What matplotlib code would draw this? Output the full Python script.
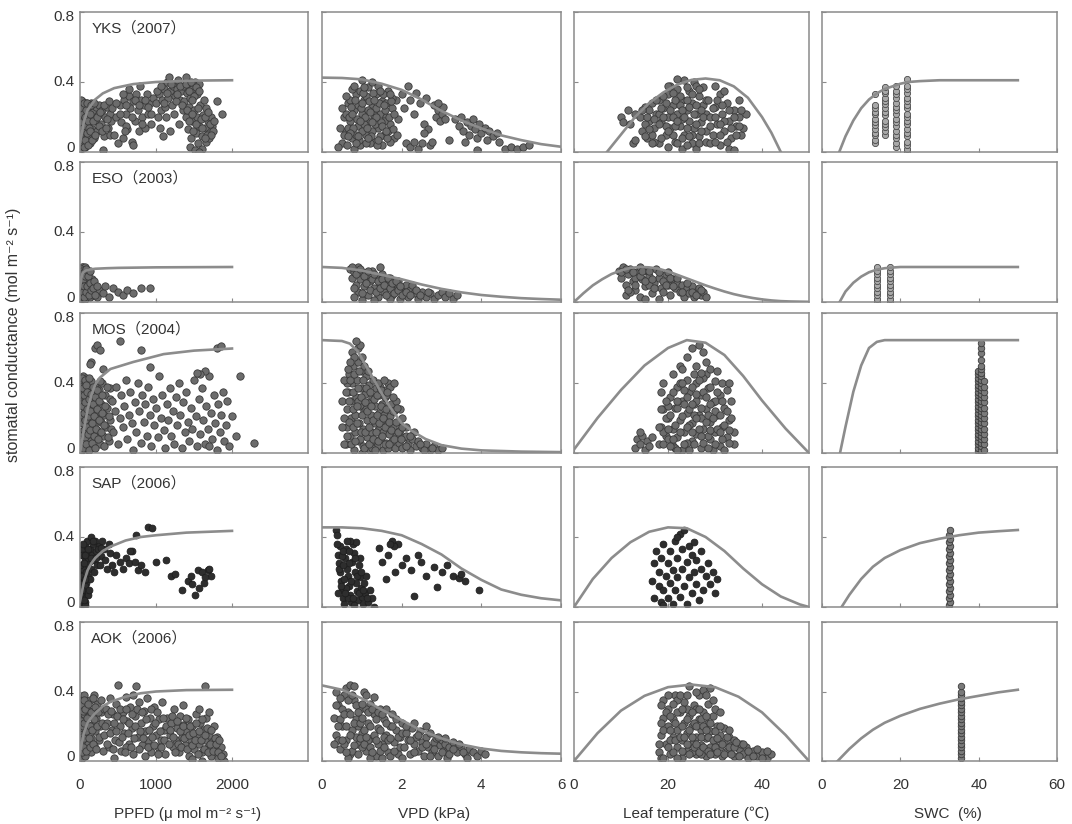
import matplotlib
matplotlib.use("Agg")
import matplotlib.pyplot as plt

plt.rcParams['font.family'] = ['Liberation Sans', 'Noto Sans CJK JP', 'DejaVu Sans']

# ---------------------------------------------------------------- sites / axes
sites = ["YKS（2007）", "ESO（2003）", "MOS（2004）", "SAP（2006）", "AOK（2006）"]
xlabels = ["PPFD (μ mol m⁻² s⁻¹)", "VPD (kPa)", "Leaf temperature (℃)", "SWC  (%)"]
xlims = [(0, 3000), (0, 6), (0, 50), (0, 60)]
xticks = [[0, 1000, 2000], [0, 2, 4, 6], [0, 20, 40], [0, 20, 40, 60]]
yticks = [0, 0.4, 0.8]
ytick_labels = ["0", "0.4", "0.8"]

# ---------------------------------------------------------------- fitted response curves (x, gs)
yks_ppfd_curve = ([0, 50, 100, 200, 300, 450, 700, 1000, 1500, 2000],
                  [0.05, 0.17, 0.24, 0.30, 0.335, 0.365, 0.388, 0.40, 0.408, 0.41])
yks_vpd_curve = ([0, 0.5, 1, 1.5, 2, 2.5, 3, 3.5, 4, 4.5, 5, 5.5, 6],
                 [0.425, 0.423, 0.415, 0.39, 0.355, 0.30, 0.235, 0.18, 0.135, 0.095, 0.068, 0.045, 0.03])
yks_t_curve = ([7, 10, 13, 16, 19, 22, 25, 28, 31, 34, 37, 40, 42, 44],
               [0, 0.10, 0.20, 0.28, 0.34, 0.385, 0.412, 0.42, 0.41, 0.375, 0.31, 0.20, 0.11, 0])
yks_swc_curve = ([4.4, 6, 8, 10, 12, 14, 16, 18, 20, 22, 25, 30, 40, 50],
                 [0, 0.09, 0.18, 0.25, 0.30, 0.335, 0.36, 0.375, 0.39, 0.40, 0.405, 0.41, 0.41, 0.41])

eso_ppfd_curve = ([0, 15, 30, 50, 80, 120, 200, 350, 500, 1000, 2000],
                  [0.08, 0.13, 0.16, 0.172, 0.18, 0.185, 0.19, 0.193, 0.195, 0.198, 0.2])
eso_vpd_curve = ([0, 0.5, 1, 1.5, 2, 2.5, 3, 3.5, 4, 4.5, 5, 5.5, 6],
                 [0.2, 0.195, 0.18, 0.155, 0.13, 0.10, 0.075, 0.055, 0.04, 0.03, 0.022, 0.017, 0.013])
eso_t_curve = ([0, 2, 4, 6, 8, 10, 12, 14, 16, 18, 20, 22, 24, 26, 28, 30, 32, 34, 36, 38, 40, 42, 44, 46, 48, 50],
               [0, 0.05, 0.095, 0.13, 0.16, 0.18, 0.195, 0.2, 0.198, 0.19, 0.175, 0.155, 0.135, 0.115,
                0.095, 0.077, 0.06, 0.045, 0.033, 0.023, 0.015, 0.009, 0.005, 0.003, 0.002, 0.001])
eso_swc_curve = ([4.5, 6, 8, 10, 12, 14, 16, 18, 20, 25, 30, 40, 50],
                 [0, 0.06, 0.11, 0.145, 0.17, 0.185, 0.193, 0.197, 0.2, 0.2, 0.2, 0.2, 0.2])

mos_ppfd_curve = ([0, 50, 100, 150, 200, 260, 400, 700, 1100, 1500, 2000],
                  [0.0, 0.13, 0.25, 0.33, 0.39, 0.43, 0.48, 0.52, 0.565, 0.585, 0.597])
mos_vpd_curve = ([0, 0.5, 0.7, 0.9, 1.1, 1.3, 1.5, 1.7, 2.0, 2.3, 2.6, 3.0, 3.5, 4, 5, 6],
                 [0.645, 0.64, 0.625, 0.58, 0.50, 0.42, 0.34, 0.265, 0.17, 0.12, 0.08, 0.045, 0.025, 0.015, 0.008, 0.005])
mos_t_curve = ([0, 5, 10, 15, 20, 24, 28, 32, 36, 40, 45, 50],
               [0.02, 0.20, 0.36, 0.50, 0.60, 0.645, 0.63, 0.56, 0.44, 0.30, 0.14, 0.0])
mos_swc_curve = ([4.6, 6, 8, 10, 12, 14, 16, 20, 30, 40, 50],
                 [0, 0.15, 0.35, 0.50, 0.60, 0.635, 0.645, 0.645, 0.645, 0.645, 0.645])

sap_ppfd_curve = ([0, 50, 100, 150, 200, 300, 400, 600, 800, 1000, 1400, 2000],
                  [0.03, 0.14, 0.21, 0.25, 0.28, 0.32, 0.345, 0.38, 0.40, 0.41, 0.425, 0.435])
sap_vpd_curve = ([0, 0.5, 1, 1.5, 2, 2.5, 3, 3.5, 4, 4.5, 5, 5.5, 6],
                 [0.455, 0.455, 0.45, 0.435, 0.41, 0.36, 0.30, 0.22, 0.155, 0.10, 0.07, 0.05, 0.038])
sap_t_curve = ([0, 4, 8, 12, 16, 20, 24, 28, 32, 36, 40, 44, 48, 50],
               [0, 0.16, 0.28, 0.37, 0.43, 0.455, 0.45, 0.40, 0.32, 0.22, 0.13, 0.06, 0.015, 0.0])
sap_swc_curve = ([5, 7, 10, 13, 16, 20, 25, 30, 35, 40, 45, 50],
                 [0, 0.07, 0.16, 0.23, 0.28, 0.325, 0.365, 0.39, 0.41, 0.425, 0.433, 0.44])

aok_ppfd_curve = ([0, 50, 100, 150, 200, 300, 400, 600, 800, 1000, 1400, 2000],
                  [0.05, 0.16, 0.22, 0.25, 0.275, 0.315, 0.34, 0.37, 0.39, 0.40, 0.408, 0.41])
aok_vpd_curve = ([0, 0.5, 1, 1.5, 2, 2.5, 3, 3.5, 4, 4.5, 5, 5.5, 6],
                 [0.435, 0.41, 0.36, 0.295, 0.235, 0.175, 0.13, 0.095, 0.072, 0.058, 0.05, 0.045, 0.042])
aok_t_curve = ([0, 5, 10, 15, 20, 25, 30, 35, 40, 45, 50],
               [0, 0.16, 0.29, 0.375, 0.425, 0.44, 0.425, 0.37, 0.28, 0.15, 0])
aok_swc_curve = ([4, 7, 10, 13, 16, 20, 25, 30, 35, 40, 45, 50],
                 [0, 0.07, 0.13, 0.18, 0.22, 0.26, 0.30, 0.33, 0.355, 0.375, 0.395, 0.41])

# ---------------------------------------------------------------- observations (x, gs)
yks_ppfd = [(5,.02),(8,.10),(10,.18),(12,.26),(15,.06),(18,.14),(20,.22),(22,.29),(25,.04),(30,.12),(35,.2),(40,.27),
            (45,.08),(50,.16),(55,.24),(60,.03),(65,.11),(70,.19),(75,.28),(85,.06),(90,.14),(95,.22),(105,.1),(110,.25),
            (120,.17),(130,.05),(140,.21),(150,.28),(160,.13),(170,.23),(185,.08),(195,.18),(210,.26),(225,.12),(240,.21),
            (255,.27),(270,.16),(290,.24),(310,.09),(330,.2),(350,.26),(370,.14),(390,.22),(410,.18),(300,.01),
            (3,.15),(6,.22),(9,.04),(14,.3),(17,.1),(23,.17),(28,.25),(33,.07),(38,.14),(42,.22),(47,.03),(52,.28),
            (57,.12),(63,.2),(68,.07),(73,.15),(80,.24),(87,.11),(92,.28),(100,.18),(108,.04),(115,.14),(125,.22),
            (135,.12),(145,.27),(155,.07),(165,.18),(180,.28),(200,.1),(220,.2),(245,.15),(265,.23),(285,.12),
            (320,.27),(340,.14),(360,.19),(380,.29),(400,.1),(420,.25),
            (450,.1),(470,.2),(500,.05),(520,.27),(540,.17),(560,.08),(580,.3),(600,.22),(620,.13),(640,.32),(660,.25),
            (680,.06),(700,.29),(720,.18),(740,.33),(760,.24),(780,.12),(800,.3),(820,.2),(840,.27),(860,.14),(880,.33),
            (900,.22),(920,.28),(940,.16),(960,.31),(650,.36),(700,.04),(790,.38),(600,.15),
            (470,.28),(530,.22),(570,.33),(610,.27),(690,.2),(730,.3),(770,.27),(810,.16),(850,.3),(890,.26),(930,.22),
            (590,.12),
            (1000,.28),(1020,.2),(1040,.33),(1060,.24),(1080,.3),(1100,.36),(1120,.26),(1140,.4),(1160,.31),(1170,.43),
            (1190,.35),(1210,.27),(1230,.38),(1250,.32),(1270,.36),(1290,.41),(1310,.3),(1330,.35),(1350,.38),(1370,.29),
            (1390,.43),(1410,.34),(1430,.38),(1450,.31),(1480,.36),(1510,.4),(1540,.33),(1570,.39),(1050,.14),(1090,.09),
            (1130,.2),(1190,.12),(1240,.22),(1300,.16),(1360,.24),
            (1010,.35),(1070,.38),(1110,.28),(1150,.34),(1200,.39),(1260,.29),(1280,.33),(1320,.38),(1340,.27),
            (1400,.39),(1440,.35),(1460,.4),(1500,.32),(1530,.37),(1560,.35),
            (1400,.2),(1420,.13),(1440,.26),(1460,.08),(1480,.18),(1500,.24),(1520,.11),(1540,.2),(1560,.15),(1580,.27),
            (1600,.09),(1620,.21),(1640,.14),(1660,.25),(1680,.18),(1700,.11),(1720,.2),(1740,.15),(1450,.03),(1510,.01),
            (1550,.05),(1600,.02),(1660,.06),(1700,.08),(1750,.12),(1630,.3),(1800,.29),(1870,.22),(1480,.3),(1570,.0),
            (1410,.24),(1430,.18),(1470,.22),(1490,.12),(1530,.16),(1550,.25),(1590,.19),(1610,.14),(1650,.2),
            (1670,.1),(1690,.23),(1710,.16),(1730,.1),(1760,.18),(1640,.08)]
yks_vpd = [(0.5,.05),(0.55,.2),(0.6,.12),(0.65,.28),(0.7,.18),(0.75,.08),(0.8,.24),(0.85,.33),(0.9,.15),(0.95,.04),
           (1.0,.22),(1.05,.3),(1.1,.1),(1.15,.37),(1.2,.18),(1.25,.26),(1.3,.06),(1.35,.33),(1.4,.14),(1.45,.22),
           (1.5,.29),(1.55,.1),(1.6,.2),(1.65,.35),(1.7,.16),(1.75,.25),(1.8,.08),(1.85,.3),(1.9,.19),(0.7,.3),(0.8,.02),
           (0.9,.27),(1.0,.12),(1.1,.32),(1.2,.05),(1.3,.21),(1.4,.38),(1.5,.04),(1.6,.28),(1.7,.06),(0.6,.22),(0.75,.36),
           (1.05,.16),(1.25,.12),(1.45,.09),(1.55,.18),(1.35,.25),(0.95,.35),(0.85,.1),(1.15,.24),(1.65,.12),(1.75,.31),
           (0.65,.14),(1.0,.41),(1.25,.4),(0.45,.14),(0.4,.03),
           (0.5,.25),(0.55,.1),(0.6,.32),(0.62,.04),(0.68,.2),(0.72,.26),(0.78,.14),(0.82,.3),(0.88,.19),(0.92,.07),
           (0.98,.25),(1.02,.34),(1.07,.2),(1.12,.14),(1.17,.29),(1.22,.09),(1.27,.34),(1.32,.16),(1.37,.04),
           (1.42,.28),(1.47,.17),(1.52,.33),(1.57,.24),(1.62,.08),(1.67,.2),(1.72,.29),(1.78,.13),(1.82,.22),
           (1.88,.1),(0.7,.11),(0.8,.38),(0.9,.09),(1.0,.28),(1.1,.05),(1.2,.23),(1.3,.3),(1.4,.07),(1.5,.15),
           (1.6,.12),(1.7,.33),(0.95,.18),(1.15,.08),(1.35,.2),(1.45,.35),(1.55,.27),(0.85,.05),(1.05,.37),
           (1.25,.17),(0.75,.22),(0.65,.09),
           (2.0,.33),(2.05,.25),(2.15,.38),(2.2,.3),(2.3,.22),(2.35,.34),(2.45,.28),(2.55,.16),(2.6,.31),(2.65,.13),
           (2.1,.05),(2.2,.03),(2.3,.06),(2.4,.02),(2.5,.05),(2.7,.04),(2.75,.06),(3.2,.07),(2.55,.11),
           (2.8,.27),(2.85,.2),(2.9,.24),(2.95,.18),(3.0,.22),(3.05,.26),(3.1,.19),(2.9,.28),
           (3.35,.19),(3.45,.15),(3.5,.2),(3.55,.12),(3.65,.17),(3.7,.1),(3.75,.15),(3.8,.19),(3.85,.13),(3.9,.08),
           (3.95,.16),(4.0,.11),(4.1,.14),(4.15,.07),(4.2,.12),(4.3,.09),(4.4,.11),(4.45,.06),(3.6,.06),(3.9,.01),
           (4.6,.02),(4.75,.03),(4.9,.02),(5.05,.03),(5.2,.04)]
yks_t = [(10,.2),(10.5,.17),(11.5,.24),(12,.16),(13,.22),(12.5,.05),(13,.07),
         (14,.2),(14.5,.12),(15,.26),(15.5,.08),(16,.18),(16.5,.28),(17,.14),(17.5,.22),(18,.05),(18,.3),(18.5,.17),
         (19,.25),(19.5,.1),(20,.2),(20,.33),(20.5,.14),(21,.27),(21.5,.06),(22,.22),(22,.36),(22.5,.15),(23,.3),
         (23.5,.1),(23.5,.41),(24,.24),(24.5,.18),(24.5,.35),(25,.05),(25,.28),(25.5,.14),(25.5,.4),(26,.22),(26.5,.32),
         (26.5,.09),(27,.17),(27.5,.27),(27.5,.37),(28,.12),(28,.22),(16,.24),(17,.06),(19,.32),(21,.2),(21,.1),(23,.02),
         (24,.04),(26,.02),(22.5,.27),(19.5,.15),(18,.22),(20,.03),(15,.16),(16.5,.1),(24,.3),(26,.38),(23,.19),
         (20.5,.38),(22,.42),
         (14.5,.24),(15,.09),(15.5,.2),(16,.13),(16.5,.05),(17,.19),(17.5,.3),(18,.16),(18.5,.08),(19,.2),(19.5,.28),
         (20,.12),(20.5,.24),(21,.34),(21.5,.15),(22,.05),(22,.18),(22.5,.32),(23,.24),(23,.08),(23.5,.2),(24,.14),
         (24,.37),(24.5,.26),(25,.1),(25,.33),(25.5,.22),(26,.16),(26,.27),(26.5,.05),(27,.12),(27,.24),(27.5,.2),
         (28,.3),(28,.06),(18.5,.25),(20,.38),(21.5,.3),(24.5,.09),(26.5,.36),
         (28.5,.3),(29,.2),(29.5,.1),(30,.26),(30.5,.16),(31,.04),(31,.33),(31.5,.22),(32,.12),(32.5,.28),(33,.18),
         (33.5,.08),(34,.24),(34.5,.15),(35,.2),(35.5,.1),(36,.14),(36.5,.22),(30,.38),(33,.02),(34,.01),(32,.35),
         (29,.05),(35,.3),
         (29,.15),(29.5,.25),(30,.2),(30.5,.3),(31,.1),(31.5,.27),(32,.18),(32.5,.06),(33,.24),(33.5,.14),(34,.2),
         (34.5,.1),(35,.15),(35.5,.24),(30,.06),(31,.16)]
yks_swc = [(13.5,.05),(13.5,.07),(13.5,.095),(13.5,.11),(13.5,.13),(13.5,.155),(13.5,.17),(13.5,.19),(13.5,.215),
           (13.5,.23),(13.5,.25),(13.5,.27),(13.5,.33),
           (16,.10),(16,.12),(16,.145),(16,.16),(16,.18),(16,.21),(16,.23),(16,.25),(16,.275),(16,.29),(16,.31),
           (16,.335),(16,.35),(16,.37),
           (19,.03),(19,.05),(19,.08),(19,.10),(19,.12),(19,.15),(19,.17),(19,.19),(19,.22),(19,.24),(19,.26),
           (19,.28),(19,.31),(19,.33),(19,.35),(19,.38),
           (21.8,.0),(21.8,.02),(21.8,.04),(21.8,.06),(21.8,.09),(21.8,.11),(21.8,.13),(21.8,.16),(21.8,.18),
           (21.8,.2),(21.8,.22),(21.8,.25),(21.8,.27),(21.8,.29),(21.8,.31),(21.8,.34),(21.8,.36),(21.8,.38),(21.8,.42)]

eso_ppfd = [(5,.02),(8,.08),(10,.14),(12,.19),(15,.05),(18,.11),(20,.17),(25,.03),(30,.09),(35,.15),(40,.2),(45,.06),
            (50,.12),(55,.18),(60,.02),(70,.1),(80,.15),(90,.05),(100,.12),(110,.08),(120,.17),(130,.03),(140,.1),
            (150,.06),(160,.13),(175,.04),(190,.09),(210,.06),(230,.03),(250,.07),(20,.2),(65,.2),
            (3,.1),(6,.17),(9,.04),(13,.12),(16,.19),(22,.08),(27,.14),(32,.18),(38,.06),(42,.13),(48,.17),(52,.03),
            (58,.09),(67,.15),(75,.06),(85,.19),(95,.09),(105,.15),(115,.04),(125,.11),(135,.18),(145,.07),(165,.08),
            (180,.12),(200,.04),(220,.09),
            (300,.05),(330,.09),(380,.03),(430,.08),(500,.06),(560,.04),(620,.07),(700,.05),(800,.08),(920,.08)]
eso_vpd = [(0.7,.19),(0.75,.14),(0.8,.17),(0.85,.1),(0.9,.2),(0.9,.06),(0.95,.13),(1.0,.17),(1.05,.09),(1.1,.15),
           (1.15,.04),(1.2,.12),(1.25,.18),(1.3,.08),(1.35,.14),(1.4,.03),(1.45,.11),(1.5,.16),(1.55,.06),(1.6,.12),
           (1.65,.09),(1.7,.14),(1.75,.04),(1.8,.1),(1.85,.07),(1.9,.12),(1.95,.02),(2.0,.08),(2.05,.05),(2.1,.1),
           (2.15,.03),(2.2,.07),(2.3,.05),(2.4,.02),(2.5,.06),(2.6,.03),(2.7,.05),(2.8,.02),(2.9,.04),(3.0,.06),
           (3.1,.03),(3.2,.05),(3.3,.02),(3.4,.04),(1.45,.2),(1.0,.01),(1.7,.02),(2.25,.1),(0.8,.03),(1.3,.01),
           (0.75,.2),(0.8,.08),(0.85,.16),(0.95,.19),(1.0,.05),(1.05,.15),(1.1,.11),(1.15,.18),(1.2,.07),(1.25,.13),
           (1.3,.16),(1.35,.06),(1.4,.12),(1.45,.08),(1.5,.13),(1.55,.1),(1.6,.04),(1.65,.14),(1.7,.08),(1.75,.11),
           (1.8,.05),(1.85,.12),(1.9,.07),(1.95,.09),(2.0,.04),(2.1,.06),(2.2,.04),(2.35,.07),(2.45,.04),(2.65,.06)]
eso_t = [(9.5,.18),(10,.14),(10.5,.2),(11,.1),(11.5,.16),(12,.19),(12.5,.12),(13,.07),(13.5,.17),(14,.2),(14.5,.13),
         (15,.09),(15.5,.18),(16,.15),(16.5,.05),(17,.11),(17.5,.19),(18,.14),(18.5,.08),(19,.12),(19.5,.16),(20,.1),
         (20.5,.04),(21,.13),(21.5,.08),(22,.11),(22.5,.06),(23,.1),(23.5,.03),(24,.08),(24.5,.05),(25,.09),(25.5,.03),
         (26,.06),(26.5,.08),(27,.04),(27.5,.06),(28,.03),(11,.04),(12,.06),(14,.03),(16,.1),(18,.02),(20,.17),
         (13,.14),(15,.02),
         (10,.17),(11,.19),(11.5,.07),(12.5,.17),(13,.1),(14,.15),(14.5,.18),(15,.12),(16,.18),(16.5,.13),(17,.08),
         (18,.17),(19,.06),(19.5,.1),(20.5,.14),(21,.09),(22,.14),(23,.06),(24,.11),(25,.06),(26,.04),(27,.07)]
eso_swc = [(14,.0),(14,.02),(14,.04),(14,.06),(14,.08),(14,.10),(14,.12),(14,.14),(14,.16),(14,.18),(14,.2),
           (17.3,.0),(17.3,.02),(17.3,.04),(17.3,.06),(17.3,.08),(17.3,.10),(17.3,.12),(17.3,.14),(17.3,.16),
           (17.3,.18),(17.3,.2)]

mos_ppfd = [(5,.03),(8,.12),(10,.22),(12,.32),(15,.42),(18,.07),(20,.17),(22,.27),(25,.37),(30,.02),(32,.12),(35,.22),
            (38,.31),(40,.44),(45,.08),(50,.18),(55,.28),(58,.38),(62,.05),(66,.14),(70,.24),(75,.34),(80,.43),(85,.1),
            (90,.2),(95,.3),(100,.4),(105,.02),(110,.15),(115,.25),(120,.35),(128,.07),(135,.19),(140,.29),(148,.41),
            (155,.11),(160,.23),(168,.33),(175,.04),(182,.16),(190,.27),(198,.38),(205,.09),(212,.2),(220,.31),(230,.13),
            (240,.24),(250,.36),(260,.05),(270,.18),(280,.28),(290,.4),(300,.1),(315,.22),(330,.33),(345,.15),(360,.26),
            (375,.07),(390,.19),(400,.37),
            (3,.08),(6,.18),(9,.28),(11,.38),(14,.02),(17,.12),(21,.22),(24,.33),(27,.43),(31,.07),(34,.17),(37,.27),
            (41,.37),(44,.03),(48,.13),(52,.23),(56,.33),(60,.42),(64,.09),(68,.19),(72,.29),(78,.39),(82,.05),(88,.15),
            (92,.25),(98,.35),(102,.11),(108,.21),(112,.31),(118,.43),(124,.02),(132,.13),(138,.24),(145,.34),(152,.06),
            (158,.17),(165,.28),(172,.38),(180,.1),(188,.21),(195,.32),(202,.03),(210,.14),(218,.25),(225,.36),(235,.08),
            (245,.19),(255,.3),(265,.41),(275,.12),(285,.23),(295,.33),(310,.04),(320,.16),(335,.27),(350,.38),(365,.09),
            (380,.21),(395,.31),(410,.14),
            (150,.52),(200,.6),(220,.62),(260,.59),(300,.48),(130,.51),(520,.64),(800,.59),(1800,.6),(1860,.61),(917,.49),
            (420,.3),(440,.12),(460,.24),(480,.38),(500,.05),(520,.2),(540,.33),(560,.15),(580,.27),(600,.42),(620,.08),
            (640,.22),(660,.35),(680,.17),(700,.02),(720,.29),(740,.12),(760,.4),(780,.24),(800,.06),(820,.33),(840,.18),
            (860,.28),(880,.1),(900,.38),(920,.22),(940,.04),(960,.31),(980,.16),(1000,.26),(1020,.09),(1040,.44),
            (1060,.2),(1080,.33),(1100,.13),(1120,.03),(1140,.28),(1160,.19),(1180,.37),(1200,.1),(1220,.24),(1240,.05),
            (1260,.32),(1280,.16),(1300,.4),(1320,.22),(1340,.03),(1360,.29),(1380,.12),(1400,.35),(1420,.18),(1440,.07),
            (1460,.26),(1480,.14),(1500,.42),(1520,.21),(1540,.04),(1560,.31),(1580,.11),(1600,.37),(1620,.19),
            (1640,.05),(1660,.27),(1680,.14),(1700,.44),(1720,.23),(1740,.08),(1760,.33),(1780,.17),(1800,.02),
            (1820,.28),(1840,.12),(1860,.22),(1880,.35),(1900,.07),(1920,.16),(1940,.3),(1960,.04),(2000,.21),
            (2050,.1),(2100,.44),(2290,.06),(1700,.04),(1640,.47),(1580,.45),(1540,.46)]
mos_vpd = [(0.6,.05),(0.62,.15),(0.64,.25),(0.66,.35),(0.68,.45),(0.7,.1),(0.72,.2),(0.74,.3),(0.76,.4),(0.78,.5),
           (0.8,.02),(0.82,.12),(0.84,.22),(0.86,.32),(0.88,.42),(0.9,.52),(0.92,.07),(0.94,.17),(0.96,.27),(0.98,.37),
           (1.0,.47),(1.02,.04),(1.04,.14),(1.06,.24),(1.08,.34),(1.1,.44),(1.12,.09),(1.14,.19),(1.16,.29),(1.18,.39),
           (1.2,.02),(1.22,.12),(1.24,.22),(1.26,.32),(1.28,.42),(1.3,.07),(1.32,.17),(1.34,.27),(1.36,.37),(1.38,.04),
           (1.4,.13),(1.42,.23),(1.44,.33),(1.46,.08),(1.48,.18),(1.5,.28),(1.52,.02),(1.54,.12),(1.56,.22),(1.58,.32),
           (1.6,.06),(1.62,.16),(1.64,.26),(1.66,.03),(1.68,.11),(1.7,.21),(1.72,.28),(1.75,.07),(1.78,.15),(1.8,.24),
           (1.83,.03),(1.86,.1),(1.9,.18),(1.93,.06),(1.96,.13),(2.0,.03),(2.05,.09),(2.1,.15),(2.15,.05),(2.2,.02),
           (2.25,.08),(2.3,.12),(2.35,.04),(2.4,.07),(2.5,.03),(2.6,.05),(2.7,.02),(2.8,.04),(2.9,.02),(3.0,.03),
           (0.75,.58),(0.8,.55),(0.9,.6),(0.95,.62),(0.85,.64),(1.0,.55),(0.7,.52),(0.65,.48),(1.05,.5),(1.15,.47),
           (0.62,.4),(1.25,.03),(1.0,.0),(1.45,.38),(1.6,.36),(1.65,.4),(0.78,.25),(0.9,.3),(1.1,.25),(1.35,.12),
           (0.95,.08),(1.4,.4),(1.55,.42),(1.7,.38),(1.8,.4),(1.85,.3),(1.95,.25),(2.0,.2),(1.6,.33),(0.5,.3),
           (0.5,.15),(0.55,.42),(0.55,.05),(2.1,.1),
           (0.55,.2),(0.6,.35),(0.63,.1),(0.67,.3),(0.69,.18),(0.71,.42),(0.73,.05),(0.77,.15),(0.79,.35),(0.81,.45),
           (0.83,.07),(0.87,.27),(0.89,.17),(0.91,.37),(0.93,.47),(0.97,.12),(0.99,.32),(1.01,.22),(1.03,.42),
           (1.05,.03),(1.07,.29),(1.09,.12),(1.11,.37),(1.13,.24),(1.17,.05),(1.19,.15),(1.21,.35),(1.23,.27),
           (1.27,.08),(1.29,.19),(1.31,.31),(1.33,.02),(1.37,.22),(1.39,.33),(1.41,.07),(1.43,.17),(1.47,.27),
           (1.49,.36),(1.51,.1),(1.53,.2),(1.57,.05),(1.59,.15),(1.61,.25),(1.63,.35),(1.67,.18),(1.69,.05),
           (1.73,.13),(1.77,.24),(1.79,.32),(1.81,.08),(1.85,.18),(1.88,.26),(1.92,.12),(1.98,.08),(2.02,.15),
           (2.12,.04),(2.22,.1),(2.45,.05),(2.55,.02),(2.75,.03)]
mos_t = [(13,.03),(13.5,.08),(14,.05),(14.5,.1),(15,.02),(15.5,.07),(16,.04),(16.5,.09),(14,.12),
         (18,.05),(18.5,.15),(19,.25),(19.5,.1),(20,.2),(20.5,.32),(21,.04),(21,.14),(21.5,.26),(22,.38),(22,.09),
         (22.5,.19),(23,.3),(23,.02),(23.5,.12),(24,.23),(24,.42),(24.5,.35),(25,.07),(25,.17),(25.5,.28),(26,.4),
         (26,.11),(26.5,.22),(27,.33),(27,.03),(27.5,.14),(28,.25),(28,.45),(28.5,.37),(29,.08),(29,.18),(29.5,.29),
         (30,.41),(30,.12),(30.5,.22),(31,.33),(31,.04),(31.5,.15),(32,.26),(32.5,.36),(32.5,.09),(33,.19),(33.5,.3),
         (34,.12),(34,.05),(19,.4),(20,.08),(21,.45),(22.5,.5),(24,.55),(25,.6),(26.5,.62),(27.5,.58),(28,.52),
         (29,.48),(26,.5),(23,.48),(22,.26),(24.5,.16),(26,.3),(27,.2),(28.5,.1),(30,.3),(31.5,.4),(33,.4),(20,.27),
         (19,.12),(18.5,.35),(25.5,.45),(27.5,.43),(29.5,.02),(23.5,.36),(24,.06),(32,.02),(30.5,.47),(21.5,.03),
         (18,.15),(18.5,.25),(19,.05),(19.5,.3),(19.5,.2),(20,.14),(20.5,.04),(20.5,.22),(21,.35),(21.5,.16),(22,.02),
         (22,.3),(22.5,.12),(22.5,.4),(23,.21),(23.5,.05),(23.5,.28),(24,.15),(24,.32),(24.5,.02),(24.5,.25),(25,.38),
         (25,.12),(25.5,.22),(25.5,.05),(26,.2),(26,.34),(26.5,.14),(26.5,.42),(27,.1),(27,.26),(27.5,.06),(27.5,.35),
         (28,.18),(28,.32),(28.5,.03),(28.5,.22),(29,.13),(29,.38),(29.5,.2),(30,.05),(30,.24),(30.5,.14),(30.5,.35),
         (31,.22),(31.5,.08),(31.5,.3),(32,.16),(32.5,.24),(33,.06),(33,.13),(33.5,.2),(21,.08),(23,.4),(25,.28),
         (27,.46),(29,.28),(31,.12)]
mos_swc = [(39.8,.01),(39.8,.03),(39.8,.05),(39.8,.07),(39.8,.09),(39.8,.11),(39.8,.13),(39.8,.15),(39.8,.17),
           (39.8,.19),(39.8,.21),(39.8,.23),(39.8,.25),(39.8,.27),(39.8,.29),(39.8,.31),(39.8,.33),(39.8,.35),
           (39.8,.37),(39.8,.39),(39.8,.41),(39.8,.43),(39.8,.45),(39.8,.47),
           (40.6,.0),(40.6,.02),(40.6,.04),(40.6,.06),(40.6,.08),(40.6,.10),(40.6,.12),(40.6,.14),(40.6,.16),
           (40.6,.18),(40.6,.20),(40.6,.22),(40.6,.24),(40.6,.26),(40.6,.28),(40.6,.30),(40.6,.32),(40.6,.34),
           (40.6,.36),(40.6,.38),(40.6,.40),(40.6,.42),(40.6,.44),(40.6,.46),(40.6,.48),(40.6,.50),(40.6,.53),
           (40.6,.57),(40.6,.60),(40.6,.63),
           (41.3,.02),(41.3,.05),(41.3,.08),(41.3,.11),(41.3,.14),(41.3,.17),(41.3,.20),(41.3,.23),(41.3,.26),
           (41.3,.29),(41.3,.32),(41.3,.35),(41.3,.38),(41.3,.41)]

sap_ppfd = [(5,.02),(8,.06),(10,.1),(12,.15),(15,.2),(18,.04),(20,.08),(25,.13),(28,.24),(30,.02),(35,.17),(40,.3),
            (45,.06),(50,.11),(55,.2),(60,.27),(65,.35),(70,.03),(75,.14),(80,.22),(90,.31),(95,.38),(100,.07),
            (110,.18),(120,.26),(130,.33),(140,.4),(150,.22),(160,.3),(175,.36),(190,.27),(200,.38),(215,.32),
            (230,.24),(250,.35),(270,.29),(290,.38),(310,.33),(20,.18),(40,.22),(60,.12),(100,.28),(130,.16),(180,.2),
            (60,.01),
            (3,.13),(6,.24),(9,.33),(14,.08),(22,.3),(32,.1),(38,.36),(48,.25),(52,.04),(68,.16),(72,.3),(85,.2),
            (105,.33),(115,.1),(145,.28),(165,.38),(205,.28),(240,.33),(260,.24),(280,.34),
            (330,.27),(360,.22),(390,.31),(420,.24),(450,.2),(480,.3),(520,.26),(560,.22),(600,.28),(640,.25),
            (680,.32),(720,.26),(760,.21),(800,.24),(850,.2),(900,.46),(950,.45),(742,.41),(656,.32),(1000,.26),
            (1125,.27),(1200,.18),(380,.36),
            (1253,.19),(1338,.1),(1509,.07),(1423,.15),(1466,.18),(1551,.21),(1679,.21),(1636,.14),(1722,.18),
            (1600,.2),(1650,.17),(1700,.22),(1560,.11),(1480,.13)]
sap_vpd = [(0.35,.44),(0.37,.41),(0.4,.3),(0.42,.25),(0.45,.2),(0.47,.15),(0.5,.1),(0.52,.05),(0.55,.02),(0.58,.28),
           (0.6,.33),(0.62,.22),(0.65,.18),(0.68,.12),(0.7,.07),(0.72,.03),(0.75,.26),(0.78,.36),(0.8,.31),(0.82,.2),
           (0.85,.14),(0.86,.37),(0.88,.09),(0.9,.04),(0.92,.24),(0.95,.17),(0.98,.11),(1.0,.06),(1.02,.02),(1.05,.14),
           (1.08,.08),(1.1,.18),(1.15,.03),(1.2,.1),(1.25,.05),(0.45,.35),(0.5,.29),(0.4,.08),(0.65,.05),(0.8,.01),
           (0.55,.16),(0.95,.28),(0.7,.38),(1.3,.0),(0.6,.11),
           (0.38,.36),(0.43,.22),(0.48,.12),(0.52,.32),(0.57,.08),(0.62,.38),(0.67,.25),(0.72,.15),(0.77,.05),
           (0.83,.28),(0.87,.18),(0.93,.08),(0.97,.2),(1.03,.1),(1.12,.05),(0.68,.32),(0.52,.24),
           (1.43,.335),(1.75,.38),(1.9,.36),(1.5,.26),(2.0,.24),(2.24,.21),(2.48,.26),(2.8,.23),(3.13,.24),(3.29,.18),
           (3.45,.163),(3.6,.15),(3.94,.096),(2.88,.115),(2.32,.063),(1.83,.2),(1.65,.3),(2.1,.28),(2.6,.18),(3.0,.2),
           (1.6,.16),(3.5,.19),(1.8,.35),(1.7,.36),(2.4,.3)]
sap_t = [(16.5,.15),(17,.25),(17,.05),(17.5,.32),(18,.12),(18,.2),(18.5,.03),(18.5,.28),(19,.36),(19,.1),(19.5,.18),
         (20,.25),(20,.05),(20.5,.32),(20.5,.14),(21,.02),(21,.21),(21.5,.38),(21.5,.1),(22,.28),(22,.17),(22.5,.42),
         (22.5,.06),(23,.22),(23,.33),(23.5,.12),(23.5,.44),(24,.02),(24,.26),(24.5,.17),(24.5,.35),(25,.08),(25,.3),
         (25.5,.2),(26,.13),(26,.27),(26.5,.04),(27,.22),(27,.32),(27.5,.1),(28,.18),(28.5,.25),(29,.13),(29.5,.2),
         (30,.08),(30.5,.16),(22,.4),(19,.01),(25.5,.37)]
sap_swc = [(32.4,.01),(32.7,.03),(32.4,.05),(32.7,.07),(32.4,.09),(32.7,.11),(32.4,.13),(32.7,.15),(32.4,.17),
           (32.7,.19),(32.4,.21),(32.7,.23),(32.4,.25),(32.7,.27),(32.4,.29),(32.7,.31),(32.4,.33),(32.7,.35),
           (32.4,.37),(32.7,.39),(32.4,.41),(32.6,.44)]

aok_ppfd = [(5,.05),(8,.12),(10,.2),(12,.28),(15,.35),(18,.08),(20,.16),(25,.24),(30,.32),(35,.04),(40,.11),(45,.19),
            (50,.27),(55,.38),(60,.07),(70,.14),(80,.22),(90,.3),(100,.1),(110,.18),(120,.26),(130,.35),(140,.05),
            (150,.13),(160,.21),(170,.29),(180,.38),(190,.09),(200,.17),(215,.25),(230,.33),(245,.12),(260,.2),
            (280,.28),(300,.06),(20,.02),(70,.03),
            (3,.1),(6,.3),(9,.15),(13,.23),(17,.33),(22,.05),(28,.14),(33,.2),(38,.29),(43,.08),(48,.35),(53,.13),
            (58,.22),(65,.3),(75,.17),(85,.06),(95,.25),(105,.33),(115,.13),(125,.2),(135,.08),(145,.28),(155,.18),
            (165,.36),(175,.1),(185,.24),(195,.31),(210,.07),(225,.2),(240,.28),(255,.14),(270,.35),(290,.22),(310,.3),
            (320,.15),(340,.3),(360,.22),(380,.08),(400,.36),(420,.18),(440,.27),(460,.12),(480,.33),(500,.44),
            (520,.2),(540,.06),(560,.28),(580,.16),(600,.37),(620,.23),(640,.1),(660,.31),(680,.19),(700,.04),
            (720,.26),(740,.43),(760,.14),(780,.34),(800,.22),(820,.09),(840,.29),(860,.17),(880,.36),(900,.12),
            (920,.25),(940,.05),(960,.2),(980,.31),(1000,.15),(1020,.08),(1040,.24),(1060,.12),(1080,.34),(1100,.18),
            (1120,.04),(1150,.25),(600,.08),(450,.02),(700,.38),(850,.03),
            (330,.2),(350,.1),(370,.27),(390,.16),(410,.29),(430,.07),(450,.22),(470,.17),(490,.26),(510,.11),
            (530,.3),(550,.14),(570,.24),(590,.05),(610,.3),(630,.16),(650,.22),(670,.08),(690,.27),(710,.13),
            (730,.2),(750,.3),(770,.07),(790,.17),(810,.28),(830,.13),(870,.24),(890,.08),(910,.18),(930,.3),
            (950,.14),(970,.09),(990,.22),(1010,.28),(1030,.04),(1050,.17),(1070,.08),(1090,.25),(1110,.12),(1130,.2),
            (1180,.15),(1200,.22),(1220,.08),(1240,.3),(1260,.12),(1280,.19),(1300,.05),(1320,.26),(1340,.14),
            (1360,.21),(1380,.09),(1400,.17),(1420,.24),(1440,.03),(1460,.12),(1480,.2),(1500,.07),(1520,.27),
            (1540,.15),(1560,.1),(1580,.22),(1600,.05),(1620,.18),(1640,.12),(1660,.25),(1680,.08),(1700,.15),
            (1720,.03),(1740,.11),(1760,.2),(1780,.06),(1800,.14),(1820,.02),(1850,.08),(1880,.04),(1900,.0),
            (1650,.43),(1560,.3),(1700,.28),(1480,.01),(1600,.0),(1350,.32),
            (1170,.1),(1190,.18),(1210,.26),(1230,.14),(1250,.05),(1270,.23),(1290,.1),(1310,.17),(1330,.08),
            (1350,.2),(1370,.13),(1390,.25),(1410,.07),(1430,.15),(1450,.2),(1470,.09),(1490,.16),(1510,.12),
            (1530,.22),(1550,.04),(1570,.17),(1590,.12),(1610,.24),(1630,.07),(1650,.15),(1670,.19),(1690,.05),
            (1710,.1),(1730,.18),(1750,.06),(1770,.13),(1790,.1),(1810,.05),(1830,.12),(1860,.03)]
aok_vpd = [(0.3,.25),(0.35,.15),(0.4,.32),(0.45,.07),(0.5,.2),(0.55,.38),(0.6,.12),(0.65,.28),(0.7,.04),(0.75,.18),
           (0.8,.35),(0.85,.24),(0.9,.1),(0.95,.3),(1.0,.16),(1.05,.4),(1.1,.06),(1.15,.22),(1.2,.33),(1.25,.13),
           (1.3,.27),(1.35,.03),(1.4,.19),(1.45,.3),(1.5,.1),(1.55,.24),(1.6,.15),(1.65,.05),(1.7,.2),(1.75,.27),
           (1.8,.11),(1.85,.18),(1.9,.04),(1.95,.14),(2.0,.22),(0.4,.12),(0.6,.42),(0.7,.44),(0.8,.43),(0.5,.3),
           (0.9,.2),(1.0,.08),(1.2,.02),(1.4,.1),(0.65,.02),(1.1,.3),(1.3,.37),(0.35,.4),(0.75,.06),(1.6,.3),
           (0.55,.1),(0.85,.14),(1.15,.12),(0.45,.24),(1.5,.02),
           (0.3,.1),(0.35,.32),(0.4,.2),(0.45,.36),(0.5,.12),(0.55,.27),(0.6,.05),(0.6,.2),(0.65,.35),(0.7,.15),
           (0.7,.27),(0.75,.38),(0.8,.09),(0.8,.22),(0.85,.32),(0.9,.04),(0.9,.28),(0.95,.13),(0.95,.22),(1.0,.33),
           (1.0,.25),(1.05,.1),(1.05,.18),(1.1,.38),(1.1,.14),(1.15,.28),(1.2,.08),(1.2,.2),(1.25,.3),(1.25,.05),
           (1.3,.15),(1.35,.24),(1.35,.12),(1.4,.28),(1.45,.06),(1.45,.18),(1.5,.27),(1.55,.14),(1.55,.08),
           (1.6,.22),(1.65,.12),(1.7,.03),(1.7,.13),(1.75,.2),(1.8,.06),(1.85,.24),(1.9,.14),(1.95,.08),(2.0,.16),
           (2.05,.08),(2.1,.16),(2.15,.12),(2.2,.04),(2.25,.19),(2.3,.1),(2.35,.14),(2.4,.06),(2.45,.17),(2.5,.11),
           (2.55,.03),(2.6,.14),(2.65,.08),(2.7,.16),(2.75,.05),(2.8,.11),(2.85,.13),(2.9,.03),(2.95,.09),(3.0,.12),
           (3.05,.06),(3.1,.1),(3.15,.02),(3.2,.08),(3.3,.11),(3.4,.05),(3.5,.08),(3.6,.04),(3.7,.07),(3.8,.05),
           (3.9,.03),(4.0,.06),(4.1,.04),(2.3,.22),(2.6,.2),(2.0,.02),
           (2.1,.2),(2.2,.12),(2.3,.05),(2.4,.15),(2.5,.08),(2.6,.1),(2.7,.03),(2.8,.07),(2.9,.14),(3.0,.05),
           (3.1,.13),(3.2,.04),(3.3,.07),(3.45,.1),(3.55,.05),(3.65,.02)]
aok_t = [(18,.05),(18.5,.15),(19,.25),(19,.35),(19.5,.1),(20,.2),(20,.3),(20.5,.04),(21,.14),(21,.24),(21.5,.38),
         (22,.08),(22,.18),(22.5,.28),(23,.02),(23,.12),(23.5,.22),(23.5,.34),(24,.06),(24,.16),(24.5,.26),(24.5,.43),
         (25,.1),(25,.2),(25.5,.32),(26,.04),(26,.14),(26.5,.24),(26.5,.38),(27,.09),(27,.18),(27.5,.28),(28,.03),
         (28,.13),(28.5,.22),(28.5,.33),(29,.08),(29,.17),(29.5,.26),(30,.04),(30,.12),(30.5,.2),(31,.08),(31,.15),
         (31.5,.03),(32,.11),(32,.19),(32.5,.06),(33,.14),(33.5,.09),(34,.03),(34,.12),(35,.07),(35.5,.1),(36,.04),
         (36.5,.08),(37,.02),(38,.06),(39,.03),(40,.05),(41,.02),(42,.04),(27.5,.41),(29,.42),(22,.35),(24,.3),
         (26,.3),(20.5,.12),(18.5,.02),(30,.3),(31,.28),(25,.05),(27,.04),
         (18,.1),(18.5,.22),(18.5,.32),(19,.02),(19,.18),(19.5,.28),(20,.08),(20,.38),(20.5,.18),(20.5,.26),(21,.05),
         (21,.33),(21.5,.12),(21.5,.22),(22,.28),(22,.02),(22.5,.14),(22.5,.38),(23,.06),(23,.2),(23,.3),(23.5,.14),
         (24,.1),(24,.24),(24,.38),(24.5,.04),(24.5,.18),(25,.14),(25,.28),(25.5,.08),(25.5,.22),(26,.1),(26,.2),
         (26.5,.05),(26.5,.3),(27,.14),(27,.24),(27.5,.08),(27.5,.2),(28,.18),(28,.26),(28.5,.06),(28.5,.14),(29,.04),
         (29,.22),(29.5,.12),(30,.08),(30,.17),(30.5,.05),(30.5,.13),(31,.2),(31.5,.1),(32,.04),(32.5,.14),(33,.08),
         (33,.18),(33.5,.04),(34,.08),(34.5,.11),(35,.03),(36,.1),(37,.06),(38,.03),(39,.07),(40,.02),(41,.06),
         (26,.4),(28,.38),(29.5,.35)]
aok_swc = [(35.5,.02),(35.5,.04),(35.5,.06),(35.5,.08),(35.5,.10),(35.5,.12),(35.5,.14),(35.5,.16),(35.5,.18),
           (35.5,.20),(35.5,.22),(35.5,.24),(35.5,.26),(35.5,.28),(35.5,.30),(35.5,.32),(35.5,.34),(35.5,.36),
           (35.5,.38),(35.5,.40),(35.5,.43)]

grid_points = [[yks_ppfd, yks_vpd, yks_t, yks_swc],
               [eso_ppfd, eso_vpd, eso_t, eso_swc],
               [mos_ppfd, mos_vpd, mos_t, mos_swc],
               [sap_ppfd, sap_vpd, sap_t, sap_swc],
               [aok_ppfd, aok_vpd, aok_t, aok_swc]]
grid_curves = [[yks_ppfd_curve, yks_vpd_curve, yks_t_curve, yks_swc_curve],
               [eso_ppfd_curve, eso_vpd_curve, eso_t_curve, eso_swc_curve],
               [mos_ppfd_curve, mos_vpd_curve, mos_t_curve, mos_swc_curve],
               [sap_ppfd_curve, sap_vpd_curve, sap_t_curve, sap_swc_curve],
               [aok_ppfd_curve, aok_vpd_curve, aok_t_curve, aok_swc_curve]]

# ---------------------------------------------------------------- layout (pixel boxes)
W, H = 1072, 824
col_px = [(80, 308), (322, 561), (574, 809), (822, 1057)]
row_px = [(12, 152), (162, 302), (313, 453), (467, 607), (622, 761)]
ylabel_shift = {"0": 3.0, "0.4": 0.0, "0.8": -3.5}   # points, keeps stacked labels apart

fig = plt.figure(figsize=(W / 100, H / 100), dpi=100)
spine_c = "#8a8a8a"
curve_c = "#8c8c8c"
text_c = "#333333"

for r, (top, bot) in enumerate(row_px):
    for c, (left, right) in enumerate(col_px):
        ax = fig.add_axes([left / W, 1 - bot / H, (right - left) / W, (bot - top) / H])
        pts = grid_points[r][c]
        xs = [p[0] for p in pts]
        ys = [p[1] for p in pts]
        if c == 3:
            if r < 2:
                face, edge, size = "#a8a8a8", "#4a4a4a", 20
            else:
                face, edge, size = "#7a7a7a", "#3a3a3a", 22
        elif r == 3:
            face, edge, size = "#2e2e2e", "#1e1e1e", 24
        else:
            face, edge, size = "#6c6c6c", "#3a3a3a", 28
        ax.scatter(xs, ys, s=size, c=face, edgecolors=edge, linewidths=0.6, zorder=2)
        cx, cy = grid_curves[r][c]
        ax.plot(cx, cy, color=curve_c, lw=1.9, zorder=3)

        ax.set_xlim(*xlims[c])
        ax.set_ylim(0, 0.8)
        ax.set_xticks(xticks[c])
        ax.set_yticks(yticks)
        for s in ax.spines.values():
            s.set_color(spine_c)
            s.set_linewidth(1.1)
        ax.tick_params(direction="in", length=3, color=spine_c, labelsize=11,
                       labelcolor=text_c)
        ax.tick_params(axis="x", pad=12)
        ax.set_yticklabels([])
        if c == 0:
            for v, lab in zip(yticks, ytick_labels):
                ax.annotate(lab, xy=(0, v), xycoords=("axes fraction", "data"),
                            xytext=(-4, ylabel_shift[lab]), textcoords="offset points",
                            ha="right", va="center", fontsize=11, color=text_c,
                            annotation_clip=False)
            ax.text(0.05, 0.885, sites[r], transform=ax.transAxes, fontsize=11,
                    color=text_c, va="center", ha="left")
        if r == len(row_px) - 1:
            ax.set_xticklabels([str(v) for v in xticks[c]])
        else:
            ax.set_xticklabels([])

# axis titles
label_cx = [188, 434, 696, 948]
for c, txt in enumerate(xlabels):
    fig.text(label_cx[c] / W, 1 - 814 / H, txt, ha="center", va="center",
             fontsize=11, color=text_c)
fig.text(14 / W, 1 - 335 / H, "stomatal conductance (mol m⁻² s⁻¹)", rotation=90,
         ha="center", va="center", fontsize=11.5, color=text_c)

fig.savefig("out.png", dpi=100)
